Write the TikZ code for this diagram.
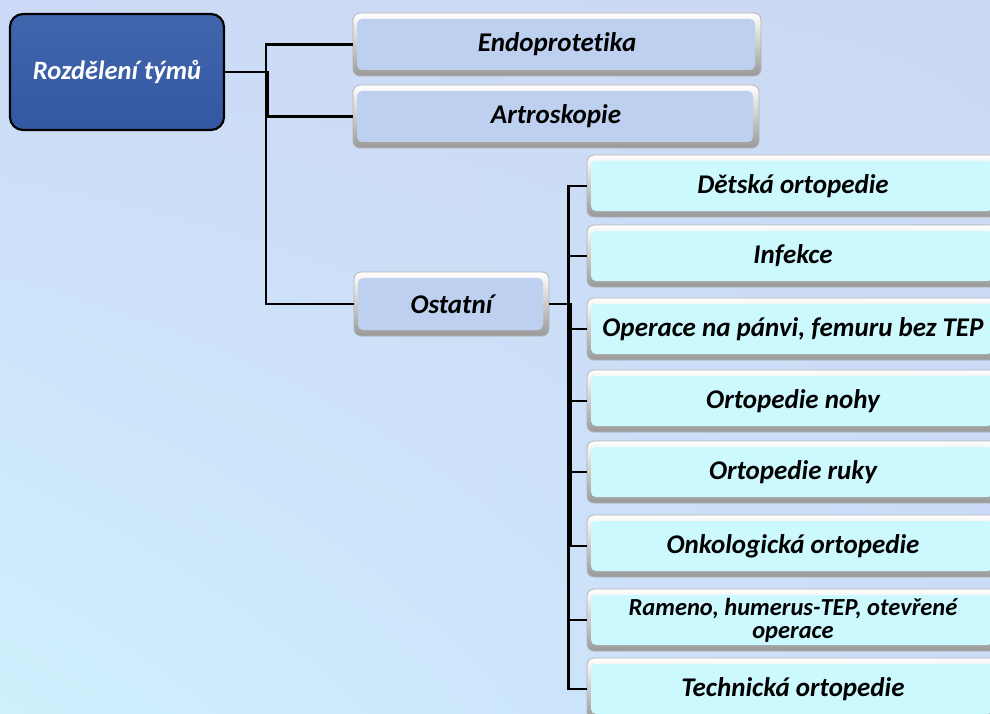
\documentclass[tikz,border=0pt]{standalone}
\usepackage{fontspec}
\setmainfont{Carlito}[Ligatures=NoCommon]
\usetikzlibrary{shadings}
\definecolor{bgA}{HTML}{CCDAF7}
\definecolor{bgB}{HTML}{CDD9F2}
\definecolor{bgC}{HTML}{CFF0FD}
\definecolor{bgD}{HTML}{CADCF9}
\definecolor{steel}{HTML}{BED0F0}
\definecolor{cyanfill}{HTML}{CCF9FE}
\definecolor{rootblue}{HTML}{3357A0}
\definecolor{rootlight}{HTML}{4166AE}
\tikzset{
  btn/.style={rounded corners=7pt, draw=gray!60, line width=0.8pt,
    top color=white, bottom color=gray!80, align=center,
    font=\fontsize{27}{28}\selectfont\bfseries\itshape,
    path picture={\fill[#1, rounded corners=5pt]
      ([shift={(4pt,-6pt)}]path picture bounding box.north west) rectangle
      ([shift={(-6pt,6pt)}]path picture bounding box.south east);}},
  rootbox/.style={rounded corners=13pt, draw=black, line width=2.2pt,
    top color=rootlight, bottom color=rootblue, text=white, align=center,
    font=\fontsize{26.5}{28}\selectfont\bfseries\itshape},
  child/.style={btn=cyanfill, minimum width=412pt, minimum height=62pt},
  conn/.style={draw=black, line width=2.2pt}
}
\begin{document}
\begin{tikzpicture}[x=1pt,y=-1pt]
\useasboundingbox (0,0) rectangle (990,714);
\shade[upper left=bgA, upper right=bgB, lower left=bgC, lower right=bgD] (0,0) rectangle (990,714);

\node[rootbox, minimum width=214pt, minimum height=116pt] (root) at (117,72) {Rozdělení týmů};
\node[btn=steel, minimum width=408pt, minimum height=63pt] (endo) at (557,44.5) {Endoprotetika};
\node[btn=steel, minimum width=406pt, minimum height=63pt] (artro) at (556,116.5) {Artroskopie};
\node[btn=steel, minimum width=195pt, minimum height=64pt] (ost) at (451.5,304) {Ostatní};

\node[child] (c1) at (793,186) {Dětská ortopedie};
\node[child] (c2) at (793,256) {Infekce};
\node[child] (c3) at (793,329) {Operace na pánvi, femuru bez TEP};
\node[child] (c4) at (793,401) {Ortopedie nohy};
\node[child] (c5) at (793,472) {Ortopedie ruky};
\node[child] (c6) at (793,546) {Onkologická ortopedie};
\node[child, font=\fontsize{24.5}{23}\selectfont\bfseries\itshape] (c7) at (793,620) {Rameno, humerus-TEP, otevřené\\operace};
\node[child] (c8) at (793,689) {Technická ortopedie};

\draw[conn] (root.east) -- ++(41,0) |- (endo.west);
\draw[conn] (root.east) -- ++(43,0) |- (artro.west);
\draw[conn] (root.east) -- ++(41,0) |- (ost.west);

\draw[conn] (ost.east) -- ++(19,0) |- (c1.west);
\draw[conn] (ost.east) -- ++(19,0) |- (c2.west);
\draw[conn] (ost.east) -- ++(21,0) |- (c3.west);
\draw[conn] (ost.east) -- ++(21,0) |- (c4.west);
\draw[conn] (ost.east) -- ++(21,0) |- (c5.west);
\draw[conn] (ost.east) -- ++(21,0) |- (c6.west);
\draw[conn] (ost.east) -- ++(19,0) |- (c7.west);
\draw[conn] (ost.east) -- ++(19,0) |- (c8.west);
\end{tikzpicture}
\end{document}
